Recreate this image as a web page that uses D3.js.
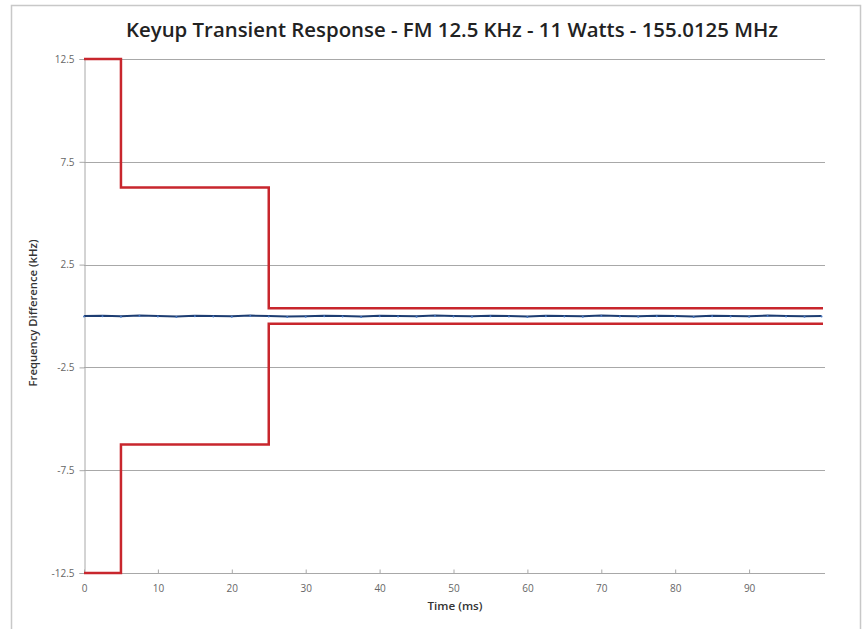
<!DOCTYPE html>
<html>
<head>
<meta charset="utf-8">
<script src="https://cdn.jsdelivr.net/npm/d3@7"></script>
<style>
  body { margin: 0; background: #fff; }
  svg { display: block; }
</style>
</head>
<body>
<svg id="chart" width="864" height="629"></svg>
<script>
// ---- data ----
const titleText = "Keyup Transient Response - FM 12.5 KHz - 11 Watts - 155.0125 MHz";
const xLabel = "Time (ms)";
const yLabel = "Frequency Difference (kHz)";
const xTicks = [0, 10, 20, 30, 40, 50, 60, 70, 80, 90];
const yTicks = [12.5, 7.5, 2.5, -2.5, -7.5, -12.5];
const yTickLabels = ["12.5", "7.5", "2.5", "-2.5", "-7.5", "-12.5"];
// upper and lower mask limits (time ms, kHz)
const maskTime  = [0, 5, 5, 25, 25, 100];
const maskUpper = [12.5, 12.5, 6.25, 6.25, 0.375, 0.375];
const maskLower = [-12.5, -12.5, -6.25, -6.25, -0.375, -0.375];
// measured frequency difference (time ms, kHz)
const measTime = [0, 2.5, 5, 7.5, 10, 12.5, 15, 17.5, 20, 22.5, 25, 27.5, 30, 32.5, 35, 37.5, 40, 42.5, 45, 47.5, 50, 52.5, 55, 57.5, 60, 62.5, 65, 67.5, 70, 72.5, 75, 77.5, 80, 82.5, 85, 87.5, 90, 92.5, 95, 97.5, 99.8];
const measVal  = [0.00, 0.01, -0.01, 0.02, 0.00, -0.02, 0.01, 0.00, -0.01, 0.02, 0.00, -0.02, -0.01, 0.01, 0.00, -0.02, 0.01, 0.00, -0.01, 0.02, 0.00, -0.01, 0.01, 0.00, -0.02, 0.01, 0.00, -0.01, 0.02, 0.00, -0.01, 0.01, 0.00, -0.02, 0.01, 0.00, -0.01, 0.02, 0.00, -0.01, 0.00];

// ---- chart ----
const svg = d3.select("#chart");
const plot = { left: 84, right: 823, top: 59, bottom: 573 };
const font = "Open Sans, sans-serif";

// chart frame
svg.append("rect").attr("x", 11.5).attr("y", 5.5).attr("width", 849).attr("height", 640)
  .attr("fill", "#fff").attr("stroke", "#c8c8c8").attr("stroke-width", 1.5);

const x = d3.scaleLinear().domain([0, 100]).range([plot.left, plot.right]);
const y = d3.scaleLinear().domain([-12.5, 12.5]).range([plot.bottom, plot.top]);

// gridlines
svg.append("g").selectAll("line").data(yTicks).join("line")
  .attr("x1", plot.left).attr("x2", plot.right + 2)
  .attr("y1", d => Math.round(y(d)) + 0.5).attr("y2", d => Math.round(y(d)) + 0.5)
  .attr("stroke", "#a8a8a8").attr("stroke-width", 1);

// y axis
const yAxis = d3.axisLeft(y).tickValues(yTicks).tickSize(5)
  .tickFormat((d, i) => yTickLabels[i]);
const gy = svg.append("g").attr("transform", `translate(${plot.left + 0.5},0)`).call(yAxis);
gy.select(".domain").attr("stroke", "#a8a8a8");
gy.selectAll(".tick line").attr("stroke", "#a8a8a8");
gy.selectAll(".tick text").attr("fill", "#666").attr("font-family", font)
  .attr("font-size", 10).attr("dx", -2);

// x axis (ticks pointing up, labels below)
const xAxis = d3.axisBottom(x).tickValues(xTicks).tickSize(-4).tickPadding(11);
const gx = svg.append("g").attr("transform", `translate(0,${Math.round(y(-12.5)) + 0.5})`).call(xAxis);
gx.select(".domain").remove();
gx.selectAll(".tick line").attr("stroke", "#a8a8a8");
gx.selectAll(".tick text").attr("fill", "#666").attr("font-family", font)
  .attr("font-size", 10);

// mask lines
const line = d3.line().x(d => x(d[0])).y(d => y(d[1]));
const upper = maskTime.map((t, i) => [t, maskUpper[i]]);
const lower = maskTime.map((t, i) => [t, maskLower[i]]);
[upper, lower].forEach(pts => {
  svg.append("path").datum(pts).attr("d", line)
    .attr("fill", "none").attr("stroke", "#c8262d").attr("stroke-width", 2.5);
});

// measured line
const meas = measTime.map((t, i) => [t, measVal[i]]);
svg.append("path").datum(meas).attr("d", line)
  .attr("fill", "none").attr("stroke", "#1d3d72").attr("stroke-width", 2);
svg.append("g").selectAll("circle").data(meas).join("circle")
  .attr("cx", d => x(d[0])).attr("cy", d => y(d[1]) + 0.5).attr("r", 1)
  .attr("fill", "#4a78c0");

// title
svg.append("text").attr("x", 452).attr("y", 37).attr("text-anchor", "middle")
  .attr("font-family", font).attr("font-size", 20).attr("font-weight", 600)
  .attr("textLength", 652).attr("lengthAdjust", "spacingAndGlyphs")
  .attr("fill", "#222").text(titleText);

// axis titles
svg.append("text").attr("x", 455).attr("y", 610).attr("text-anchor", "middle")
  .attr("font-family", font).attr("font-size", 10.5).attr("font-weight", 600)
  .attr("textLength", 55).attr("lengthAdjust", "spacingAndGlyphs")
  .attr("fill", "#333").text(xLabel);
svg.append("text").attr("transform", "translate(37,313) rotate(-90)").attr("text-anchor", "middle")
  .attr("font-family", font).attr("font-size", 10.5).attr("font-weight", 600)
  .attr("textLength", 147).attr("lengthAdjust", "spacingAndGlyphs")
  .attr("fill", "#333").text(yLabel);
</script>
</body>
</html>
